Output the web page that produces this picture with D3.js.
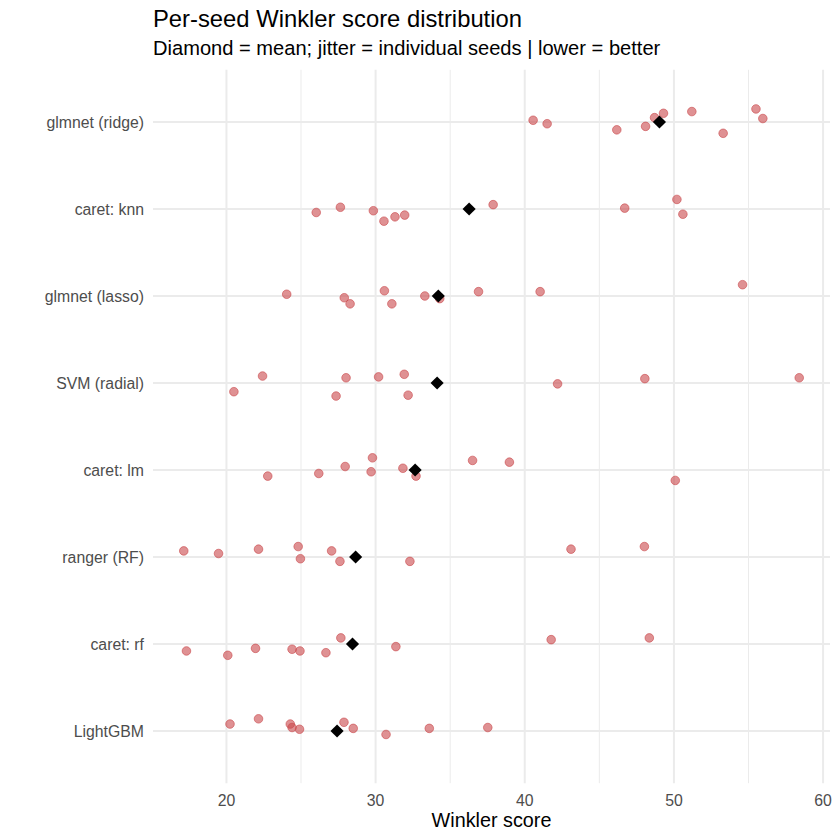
<!DOCTYPE html>
<html>
<head>
<meta charset="utf-8">
<script src="https://cdn.jsdelivr.net/npm/d3@7"></script>
<style>
  body { margin: 0; background: #fff; }
  text { font-family: "Liberation Sans", Arial, sans-serif; }
  .grid-major { stroke: #ebebeb; stroke-width: 2; }
  .grid-minor { stroke: #ebebeb; stroke-width: 1; }
  .tick-label { fill: #4d4d4d; font-size: 15.8px; }
</style>
</head>
<body>
<svg id="chart" width="840" height="840"></svg>
<script>
// models, top to bottom (sorted by mean score, worst first)
var models = ["glmnet (ridge)", "caret: knn", "glmnet (lasso)", "SVM (radial)",
              "caret: lm", "ranger (RF)", "caret: rf", "LightGBM"];

// per-seed Winkler scores (10 seeds per model)
var ridgeScores  = [40.56, 41.5, 46.17, 48.1, 48.7, 49.3, 51.2, 53.3, 55.5, 55.96];
var knnScores    = [26.02, 27.64, 29.85, 30.56, 31.3, 31.95, 37.88, 46.7, 50.2, 50.6];
var lassoScores  = [24.04, 27.9, 28.29, 30.59, 31.09, 33.3, 34.3, 36.9, 41.03, 54.6];
var svmScores    = [20.5, 22.42, 27.35, 28.02, 30.2, 31.92, 32.18, 42.2, 48.05, 58.4];
var lmScores     = [22.77, 26.19, 27.96, 29.7, 29.79, 31.83, 32.71, 36.5, 38.97, 50.09];
var rangerScores = [17.14, 19.47, 22.15, 24.81, 24.96, 27.05, 27.61, 32.3, 43.1, 48.02];
var rfScores     = [17.32, 20.09, 21.95, 24.4, 24.93, 26.67, 27.67, 31.36, 41.77, 48.35];
var lgbmScores   = [20.24, 22.15, 24.28, 24.4, 24.9, 27.88, 28.5, 30.7, 33.6, 37.52];

// vertical jitter (in category units, + = down)
var ridgeJitter  = [-0.02, 0.02, 0.09, 0.05, -0.05, -0.10, -0.12, 0.13, -0.15, -0.04];
var knnJitter    = [0.04, -0.02, 0.02, 0.14, 0.09, 0.07, -0.05, -0.01, -0.11, 0.06];
var lassoJitter  = [-0.02, 0.02, 0.09, -0.06, 0.09, 0.0, 0.03, -0.05, -0.05, -0.13];
var svmJitter    = [0.10, -0.08, 0.15, -0.06, -0.07, -0.10, 0.14, 0.01, -0.05, -0.06];
var lmJitter     = [0.07, 0.04, -0.04, 0.02, -0.14, -0.02, 0.07, -0.11, -0.09, 0.12];
var rangerJitter = [-0.07, -0.04, -0.09, -0.12, 0.02, -0.07, 0.05, 0.05, -0.09, -0.12];
var rfJitter     = [0.08, 0.13, 0.05, 0.06, 0.08, 0.10, -0.07, 0.03, -0.05, -0.07];
var lgbmJitter   = [-0.08, -0.14, -0.08, -0.04, -0.02, -0.10, -0.03, 0.04, -0.03, -0.04];

var xTicks = [20, 30, 40, 50, 60];
var xMinorTicks = [25, 35, 45, 55];

var scoreLists  = [ridgeScores, knnScores, lassoScores, svmScores, lmScores, rangerScores, rfScores, lgbmScores];
var jitterLists = [ridgeJitter, knnJitter, lassoJitter, svmJitter, lmJitter, rangerJitter, rfJitter, lgbmJitter];

var points = [];
models.forEach(function(m, i) {
    scoreLists[i].forEach(function(v, j) {
        points.push({model: m, score: v, jitter: jitterLists[i][j]});
    });
});
var means = models.map(function(m, i) {
    return {model: m, score: d3.mean(scoreLists[i])};
});

var svg = d3.select("#chart");
var panel = {left: 153, right: 830, top: 69.8, bottom: 783.2};

// x range = data range expanded by 5%
var ext = d3.extent(points, function(d) { return d.score; });
var pad = (ext[1] - ext[0]) * 0.05;
var x = d3.scaleLinear()
    .domain([ext[0] - pad, ext[1] + pad])
    .range([panel.left, panel.right]);

var y = d3.scalePoint()
    .domain(models)
    .range([panel.top, panel.bottom])
    .padding(0.6);

// grid lines
svg.append("g").selectAll("line")
    .data(xMinorTicks)
    .enter().append("line")
    .attr("class", "grid-minor")
    .attr("x1", x).attr("x2", x)
    .attr("y1", panel.top).attr("y2", panel.bottom);

svg.append("g").selectAll("line")
    .data(xTicks)
    .enter().append("line")
    .attr("class", "grid-major")
    .attr("x1", x).attr("x2", x)
    .attr("y1", panel.top).attr("y2", panel.bottom);

svg.append("g").selectAll("line")
    .data(models)
    .enter().append("line")
    .attr("class", "grid-major")
    .attr("x1", panel.left).attr("x2", panel.right)
    .attr("y1", y).attr("y2", y);

// jittered seeds
svg.append("g").selectAll("circle")
    .data(points)
    .enter().append("circle")
    .attr("cx", function(d) { return x(d.score); })
    .attr("cy", function(d) { return y(d.model) + d.jitter * y.step(); })
    .attr("r", 4.3)
    .style("fill", "#c9474b")
    .style("fill-opacity", 0.6)
    .style("stroke", "#c9474b")
    .style("stroke-opacity", 0.6)
    .style("stroke-width", 1);

// mean diamonds
var diamond = d3.symbol().type(d3.symbolDiamond2).size(110);
svg.append("g").selectAll("path")
    .data(means)
    .enter().append("path")
    .attr("d", diamond)
    .attr("transform", function(d) { return "translate(" + x(d.score) + "," + y(d.model) + ")"; })
    .style("fill", "#000");

// axis labels
svg.append("g").selectAll("text")
    .data(xTicks)
    .enter().append("text")
    .attr("class", "tick-label")
    .attr("x", x)
    .attr("y", 806)
    .style("text-anchor", "middle")
    .text(function(d) { return d; });

svg.append("g").selectAll("text")
    .data(models)
    .enter().append("text")
    .attr("class", "tick-label")
    .attr("x", 144)
    .attr("y", function(d) { return y(d) + 5.6; })
    .style("text-anchor", "end")
    .text(function(d) { return d; });

svg.append("text")
    .attr("x", (panel.left + panel.right) / 2)
    .attr("y", 827)
    .style("text-anchor", "middle")
    .style("font-size", "19.8px")
    .style("fill", "#000")
    .text("Winkler score");

// titles
svg.append("text")
    .attr("x", panel.left)
    .attr("y", 27)
    .style("font-size", "23.8px")
    .style("fill", "#000")
    .text("Per-seed Winkler score distribution");

svg.append("text")
    .attr("x", panel.left)
    .attr("y", 55)
    .style("font-size", "20.1px")
    .style("fill", "#000")
    .text("Diamond = mean; jitter = individual seeds | lower = better");
</script>
</body>
</html>
